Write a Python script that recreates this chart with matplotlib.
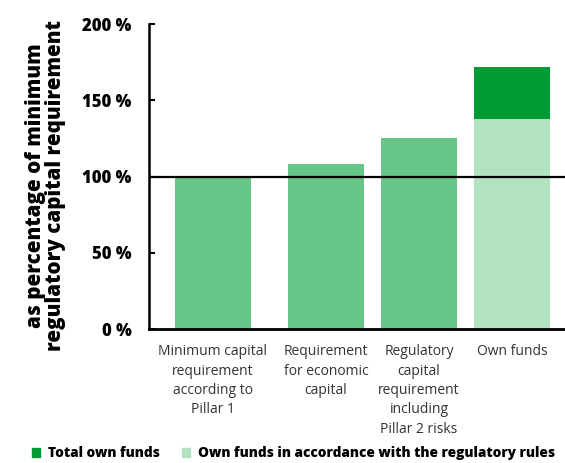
import matplotlib.pyplot as plt
from matplotlib.patches import Patch

categories = [
    "Minimum capital\nrequirement\naccording to\nPillar 1",
    "Requirement\nfor economic\ncapital",
    "Regulatory\ncapital\nrequirement\nincluding\nPillar 2 risks",
    "Own funds",
]
requirement_values = [100, 108, 125]
own_funds_regulatory = 138
own_funds_total = 172
yticks = [0, 50, 100, 150, 200]
ytick_labels = ["0 %", "50 %", "100 %", "150 %", "200 %"]

positions = [0, 1.215, 2.215, 3.215]
width = 0.817

c_mid = "#66c587"
c_dark = "#009b34"
c_light = "#b3e2c1"

plt.rcParams["font.family"] = ["Open Sans", "DejaVu Sans"]

fig = plt.figure(figsize=(5.65, 4.63), dpi=100)
ax = fig.add_axes([0.2637, 0.2894, 0.7363, 0.6587])

ax.bar(positions[:3], requirement_values, width=width, color=c_mid, zorder=2)
ax.bar(positions[3], own_funds_regulatory, width=width, color=c_light, zorder=2)
ax.bar(positions[3], own_funds_total - own_funds_regulatory, width=width,
       bottom=own_funds_regulatory, color=c_dark, zorder=2)

ax.axhline(100, color="black", lw=1.6, zorder=3)

ax.set_xlim(-0.688, 3.785)
ax.set_ylim(0, 200)
ax.set_yticks(yticks)
ax.set_yticklabels(ytick_labels, fontweight="heavy", fontsize=12)
ax.set_xticks(positions)
ax.set_xticklabels(categories, fontsize=10, color="#333333", linespacing=1.4)
ax.tick_params(axis="x", length=0, pad=11)
ax.tick_params(axis="y", direction="in", length=4.5, width=1.5, pad=12.5)

for side in ["top", "right"]:
    ax.spines[side].set_visible(False)
ax.spines["left"].set_linewidth(1.8)
ax.spines["bottom"].set_linewidth(2.0)

ax.set_ylabel("as percentage of minimum\nregulatory capital requirement",
              fontsize=14.8, fontweight="heavy", linespacing=0.9)
ax.yaxis.set_label_coords(-0.2, 0.47)

handles = [
    Patch(color=c_dark, label="Total own funds"),
    Patch(color=c_light, label="Own funds in accordance with the regulatory rules"),
]
leg = fig.legend(handles=handles, loc="lower center", bbox_to_anchor=(0.52, -0.021),
                 ncol=2, frameon=False, handlelength=0.6, handleheight=0.6,
                 columnspacing=1.6, handletextpad=0.6,
                 prop={"weight": "heavy", "size": 9.8})

fig.savefig("out.png", dpi=100)
